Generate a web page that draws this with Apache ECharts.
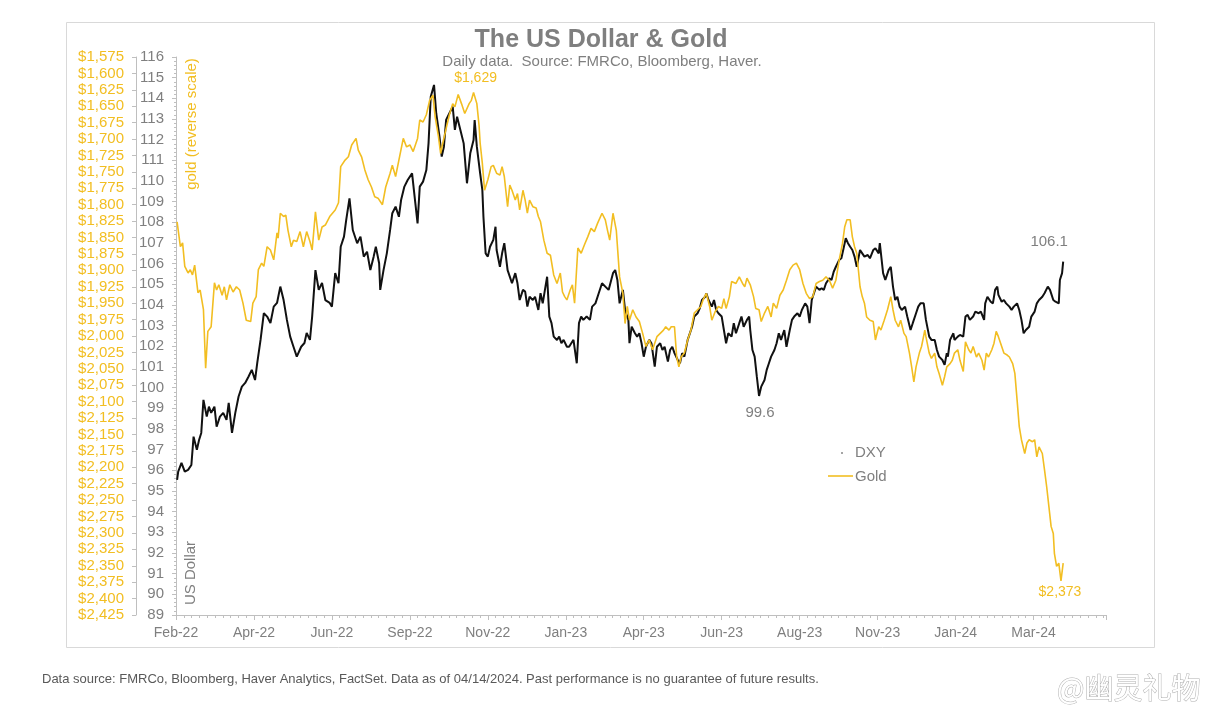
<!DOCTYPE html>
<html><head><meta charset="utf-8">
<script src="https://cdn.jsdelivr.net/npm/echarts@6/dist/echarts.min.js"></script>
<style>html,body{margin:0;padding:0;background:#fff}#c{width:1221px;height:717px}</style>
</head><body><div id="c"></div>
<script>
// x axis: days since start of Feb-22, ticks every 71 days
const xTickLabels = ['Feb-22','Apr-22','Jun-22','Sep-22','Nov-22','Jan-23','Apr-23','Jun-23','Aug-23','Nov-23','Jan-24','Mar-24'];
const xTickStep = 71;
const xMaxDay = 847;

const dxyDays = [1,2,5,8,11,14,16,19,21,23,
25,28,30,32,35,37,40,43,46,48,
51,54,57,60,63,66,69,72,74,77,
80,83,86,89,92,95,98,101,104,107,
110,114,117,119,122,124,127,130,133,136,
140,142,145,148,150,153,155,158,161,165,
168,171,174,177,180,182,185,186,189,192,
195,197,200,203,205,208,211,215,218,220,
222,225,228,230,232,235,237,240,242,244,
246,249,252,254,256,259,262,265,268,271,
272,274,277,279,280,282,284,286,289,291,
292,295,297,299,302,304,306,309,311,313,
316,318,320,322,325,327,330,332,334,336,
338,340,342,344,347,349,351,353,356,358,
360,362,365,367,369,371,374,377,379,382,
385,388,391,394,398,400,402,404,407,409,
412,413,415,418,420,422,424,426,428,431,
433,436,438,441,443,445,448,450,452,454,
457,459,461,463,466,468,470,472,475,477,
479,482,483,485,488,490,492,494,497,499,
501,503,506,508,510,513,515,517,520,522,
523,525,527,529,531,533,536,538,540,542,
545,547,549,551,554,556,559,561,563,566,
568,570,573,575,577,579,581,583,586,588,
590,592,595,597,599,601,604,606,608,610,
612,614,616,618,620,623,625,627,630,632,
635,637,640,641,644,646,649,651,653,655,
657,659,661,664,666,669,671,674,676,678,
681,683,686,688,691,693,695,698,700,702,
703,705,708,709,712,714,717,719,721,723,
726,728,731,733,736,737,739,742,744,746,
748,749,752,754,756,759,761,763,766,768,
770,772,774,777,779,782,784,786,789,791,
794,796,799,801,804,805,807,808];

const dxyValues = [95.54,95.94,96.36,95.94,96.02,96.26,97.63,96.99,97.47,97.81,
99.41,98.60,99.08,98.78,99.08,98.11,98.60,98.78,98.44,99.26,
97.81,98.78,99.57,100.05,100.23,100.53,100.86,100.37,101.20,102.31,
103.61,103.44,103.13,103.92,104.10,104.89,104.24,103.28,102.47,101.98,
101.50,101.98,102.16,102.65,102.31,103.44,105.69,104.73,105.07,104.24,
104.10,103.92,105.54,105.05,106.82,107.31,108.11,109.16,107.63,106.99,
107.31,106.34,106.58,105.69,106.34,106.82,106.02,104.73,105.69,106.50,
107.63,108.44,108.76,108.27,109.08,109.73,110.05,110.37,108.92,107.95,
109.73,109.97,110.53,111.82,114.08,114.65,113.28,112.14,111.18,111.66,
112.95,113.28,113.60,112.47,113.11,112.47,111.82,109.89,111.34,111.98,
112.95,111.66,110.37,109.57,108.27,106.50,106.34,106.82,107.15,107.79,
106.66,105.85,106.50,106.99,105.69,105.37,105.05,105.54,105.05,104.24,
104.73,104.65,103.92,104.40,104.24,104.40,103.76,104.57,104.08,104.73,
105.37,103.44,103.12,102.47,102.31,102.47,102.15,102.31,101.98,101.98,
102.15,102.31,101.18,103.12,103.44,103.28,103.44,103.28,103.92,104.08,
104.57,105.05,104.89,104.73,105.54,105.69,105.21,104.08,104.73,103.76,
103.28,102.15,102.95,102.63,102.47,102.63,102.15,101.50,101.98,102.31,
102.15,101.02,101.98,102.15,101.82,101.98,101.26,101.82,101.98,101.67,
101.34,101.18,101.67,101.50,102.31,102.63,102.95,103.44,103.60,103.84,
104.24,104.40,104.57,104.24,103.92,104.24,103.76,103.60,103.44,102.79,
102.15,102.63,102.47,103.12,102.63,103.12,103.44,102.95,103.28,103.44,
102.79,101.82,101.50,100.53,99.60,100.05,100.37,100.86,101.18,101.50,
101.82,102.15,102.63,102.31,102.79,101.98,102.79,103.28,103.44,103.60,
103.44,103.76,104.08,103.92,103.12,104.24,104.57,104.89,104.73,104.81,
104.73,105.05,105.29,105.21,105.61,105.85,106.18,106.26,106.74,107.23,
106.99,106.82,106.66,106.34,105.85,106.66,106.50,106.34,106.42,106.26,
106.66,106.74,106.50,106.99,105.54,105.21,105.69,105.85,104.89,104.24,
104.40,103.92,103.76,103.92,103.44,102.79,103.12,103.60,103.92,104.08,
104.08,103.28,102.47,102.31,102.31,101.82,101.50,101.34,101.10,101.67,
101.50,102.31,102.63,102.31,102.47,102.55,102.47,103.44,103.52,103.28,
103.44,103.68,103.60,103.68,103.28,104.08,104.40,104.16,104.08,104.73,
104.89,104.49,104.16,104.24,104.08,103.92,103.76,103.92,104.08,103.76,
103.28,102.63,102.79,102.95,103.44,103.68,104.08,104.24,104.40,104.57,
104.89,104.73,104.24,104.16,104.08,105.21,105.54,106.10];

const goldDays = [1,4,6,8,11,13,15,17,20,22,
25,27,29,32,35,37,39,42,44,46,
49,52,55,58,61,64,68,70,73,75,
78,80,83,86,89,92,93,95,98,100,
102,105,107,110,113,116,119,122,124,127,
130,133,136,140,145,148,150,154,157,160,
164,166,169,172,175,178,181,184,188,191,
195,197,200,203,207,210,213,216,220,222,
225,228,231,234,236,239,241,243,246,249,
252,254,257,260,263,267,269,271,274,276,
277,279,281,284,287,289,292,295,297,299,
302,304,306,309,311,313,316,318,320,322,
325,328,330,332,335,338,341,344,347,350,
352,354,356,359,361,363,366,369,372,375,
378,381,384,388,391,393,395,398,401,404,
407,409,411,413,416,419,422,425,428,431,
434,438,441,444,446,449,451,454,456,458,
460,463,466,469,472,475,478,480,483,486,
488,491,494,497,499,501,504,506,510,513,
516,518,520,523,526,528,531,533,536,539,
542,544,547,550,553,556,559,562,565,568,
571,574,577,580,583,586,589,592,595,598,
601,604,607,609,611,614,616,618,620,623,
625,627,629,632,635,637,640,642,645,648,
651,653,655,658,660,663,665,668,670,672,
674,677,679,682,683,686,688,691,693,695,
698,700,702,705,707,709,712,714,717,719,
722,724,726,729,731,734,736,738,740,743,
745,747,749,752,754,757,759,762,764,766,
768,770,773,775,777,780,782,784,786,789,
791,793,795,797,799,800,802,804,806,808];

const goldValues = [1826,1864,1858,1894,1904,1899,1907,1892,1934,1930,
1960,2049,1993,1986,1919,1930,1922,1938,1925,1945,
1922,1933,1925,1930,1950,1976,1978,1950,1940,1899,
1889,1894,1864,1869,1884,1843,1851,1813,1818,1816,
1839,1864,1854,1856,1841,1864,1841,1856,1869,1811,
1854,1834,1831,1818,1808,1797,1742,1732,1727,1709,
1699,1717,1727,1747,1762,1773,1788,1790,1800,1773,
1752,1740,1757,1732,1699,1712,1709,1719,1699,1671,
1674,1663,1641,1633,1666,1696,1722,1706,1684,1663,
1646,1651,1632,1646,1661,1646,1641,1629,1646,1679,
1706,1737,1778,1762,1742,1740,1752,1755,1742,1757,
1803,1770,1778,1793,1783,1808,1778,1793,1813,1793,
1803,1805,1818,1826,1854,1874,1877,1907,1920,1904,
1933,1940,1945,1930,1922,1950,1866,1874,1861,1849,
1836,1841,1828,1813,1823,1839,1854,1813,1839,1910,
1935,1981,1955,1976,1960,1971,1978,1996,2016,2006,
2021,2001,1996,1991,1986,1991,1986,1986,2032,2047,
2032,2026,2006,1991,1965,1960,1955,1945,1935,1955,
1976,1963,1955,1958,1943,1958,1940,1917,1920,1910,
1920,1925,1912,1922,1940,1958,1960,1978,1965,1955,
1971,1950,1958,1938,1930,1915,1899,1892,1889,1899,
1920,1935,1943,1940,1920,1917,1915,1910,1915,1927,
1915,1884,1859,1834,1823,1823,1849,1864,1874,1925,
1940,1950,1971,1976,1978,2006,1986,1991,1976,1960,
1940,1960,1976,1986,1976,1996,2001,2026,2047,2070,
2047,2026,2016,1991,2001,2026,2034,2026,2047,2057,
2075,2062,2047,2042,2037,2026,2021,2037,2054,2009,
2021,2026,2016,2032,2026,2037,2052,2026,2032,2021,
2011,1993,2001,2016,2026,2029,2032,2042,2057,2097,
2138,2158,2179,2163,2158,2161,2158,2184,2169,2179,
2204,2230,2260,2290,2301,2331,2351,2346,2373,2346];

const dxyAxis = {min: 89, max: 116, step: 1};
const goldAxis = {min: 1575, max: 2425, step: 25};

const GOLD = '#F2BE22';
const GRAY = '#7f7f7f';
const AXIS = '#bfbfbf';
const FONT = '"Liberation Sans", Arial, sans-serif';

function money(v){ return '$' + Math.round(v).toLocaleString('en-US'); }

// annotation points taken from the series
const goldMinIdx = goldValues.indexOf(Math.min(...goldValues));
const goldMaxIdx = goldValues.indexOf(Math.max(...goldValues));
let dxyLowIdx = -1;
for (let i = 0; i < dxyDays.length; i++) {
  if (dxyDays[i] > 450 && (dxyLowIdx < 0 || dxyValues[i] < dxyValues[dxyLowIdx])) dxyLowIdx = i;
}
const dxyLastIdx = dxyValues.length - 1;

const dxyData = dxyDays.map((d, i) => [d, dxyValues[i]]);
const goldData = goldDays.map((d, i) => [d, goldValues[i]]);

const chart = echarts.init(document.getElementById('c'), null, {renderer: 'canvas'});
chart.setOption({
  animation: false,
  backgroundColor: '#fff',
  textStyle: {fontFamily: FONT},
  grid: {left: 176, right: 115, top: 57, bottom: 102, containLabel: false},
  xAxis: {
    type: 'value', min: 0, max: xMaxDay, interval: xTickStep,
    axisLine: {show: true, lineStyle: {color: AXIS, width: 1}},
    axisTick: {show: true, length: 5, lineStyle: {color: AXIS}},
    minorTick: {show: true, splitNumber: 10, length: 3, lineStyle: {color: AXIS}},
    splitLine: {show: false},
    axisLabel: {
      color: GRAY, fontSize: 14, fontFamily: FONT, margin: 11,
      showMaxLabel: false,
      formatter: v => (v % xTickStep === 0 && xTickLabels[v / xTickStep]) ? xTickLabels[v / xTickStep] : ''
    }
  },
  yAxis: [
    {
      type: 'value', position: 'left', offset: 0,
      min: dxyAxis.min, max: dxyAxis.max, interval: dxyAxis.step,
      axisLine: {show: true, lineStyle: {color: AXIS}},
      axisTick: {show: true, length: 4, lineStyle: {color: AXIS}},
      minorTick: {show: true, splitNumber: 5, length: 2, lineStyle: {color: AXIS}},
      splitLine: {show: false},
      axisLabel: {color: GRAY, fontSize: 15, fontFamily: FONT, margin: 12}
    },
    {
      type: 'value', position: 'left', offset: 40, inverse: true,
      min: goldAxis.min, max: goldAxis.max, interval: goldAxis.step,
      axisLine: {show: true, lineStyle: {color: AXIS}},
      axisTick: {show: true, length: 4, lineStyle: {color: AXIS}},
      minorTick: {show: false},
      splitLine: {show: false},
      axisLabel: {color: GOLD, fontSize: 15, fontFamily: FONT, margin: 12, formatter: v => money(v)}
    }
  ],
  series: [
    {
      name: 'DXY', type: 'line', xAxisIndex: 0, yAxisIndex: 0,
      data: dxyData, showSymbol: false, symbol: 'none',
      lineStyle: {color: '#111', width: 2}, itemStyle: {color: '#111'}, z: 2,
      markPoint: {
        symbol: 'circle', symbolSize: 0, silent: true,
        label: {show: true, position: 'inside', color: GRAY, fontSize: 15, fontFamily: FONT,
          formatter: p => Number(p.value).toFixed(1)},
        data: [
          {coord: [dxyDays[dxyLowIdx], dxyValues[dxyLowIdx]], value: dxyValues[dxyLowIdx], label: {offset: [1, 17]}},
          {coord: [dxyDays[dxyLastIdx], dxyValues[dxyLastIdx]], value: dxyValues[dxyLastIdx], label: {offset: [-14, -20]}}
        ]
      }
    },
    {
      name: 'Gold', type: 'line', xAxisIndex: 0, yAxisIndex: 1,
      data: goldData, showSymbol: false, symbol: 'none',
      lineStyle: {color: GOLD, width: 1.6}, itemStyle: {color: GOLD}, z: 3,
      markPoint: {
        symbol: 'circle', symbolSize: 0, silent: true,
        label: {show: true, position: 'inside', color: GOLD, fontSize: 14, fontFamily: FONT,
          formatter: p => money(p.value)},
        data: [
          {coord: [goldDays[goldMinIdx], goldValues[goldMinIdx]], value: goldValues[goldMinIdx], label: {offset: [2, -14]}},
          {coord: [goldDays[goldMaxIdx], goldValues[goldMaxIdx]], value: goldValues[goldMaxIdx], label: {offset: [-1, 11]}}
        ]
      }
    }
  ],
  graphic: [
    {type: 'rect', silent: true, z: -1, shape: {x: 66.5, y: 22.5, width: 1088, height: 625},
      style: {fill: 'none', stroke: '#d9d9d9', lineWidth: 1}},
    {type: 'text', x: 601, y: 40, style: {text: 'The US Dollar & Gold', fill: GRAY, font: 'bold 25px ' + FONT, textAlign: 'center', textVerticalAlign: 'middle'}},
    {type: 'text', x: 602, y: 62, style: {text: 'Daily data.  Source: FMRCo, Bloomberg, Haver.', fill: GRAY, font: '15px ' + FONT, textAlign: 'center', textVerticalAlign: 'middle'}},
    {type: 'text', x: 192, y: 124, rotation: Math.PI / 2, style: {text: 'gold (reverse scale)', fill: GOLD, font: '15px ' + FONT, textAlign: 'center', textVerticalAlign: 'middle'}},
    {type: 'text', x: 191, y: 573, rotation: Math.PI / 2, style: {text: 'US Dollar', fill: GRAY, font: '15px ' + FONT, textAlign: 'center', textVerticalAlign: 'middle'}},
    // legend
    {type: 'circle', shape: {cx: 842, cy: 453, r: 0.8}, style: {fill: '#333'}},
    {type: 'text', x: 855, y: 453, style: {text: 'DXY', fill: GRAY, font: '15px ' + FONT, textVerticalAlign: 'middle'}},
    {type: 'line', shape: {x1: 828, y1: 476, x2: 853, y2: 476}, style: {stroke: GOLD, lineWidth: 1.6}},
    {type: 'text', x: 855, y: 477, style: {text: 'Gold', fill: GRAY, font: '15px ' + FONT, textVerticalAlign: 'middle'}},
    // footer
    {type: 'text', x: 42, y: 679, style: {text: 'Data source: FMRCo, Bloomberg, Haver Analytics, FactSet. Data as of 04/14/2024. Past performance is no guarantee of future results.', fill: '#595959', font: '13px ' + FONT, textVerticalAlign: 'middle'}},
    // watermark
    {type: 'text', x: 1057, y: 688, style: {text: '@幽灵礼物', fill: '#ffffff', stroke: '#b0b0b0', lineWidth: 1, font: '29px "Noto Sans CJK SC", sans-serif', textVerticalAlign: 'middle'}}
  ]
});
</script>
</body></html>
